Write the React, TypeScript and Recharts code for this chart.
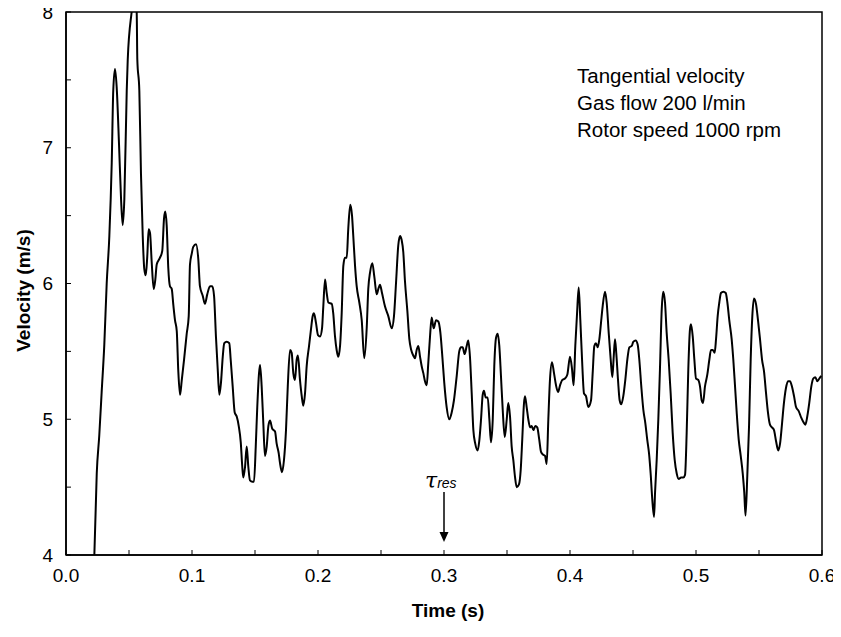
import { LineChart, Line, XAxis, YAxis, ReferenceArea, ReferenceDot } from "recharts";

// Time (s) and tangential velocity (m/s)
const TIME = [
  0.0225, 0.0244, 0.0264, 0.0283, 0.0304, 0.0323, 0.0344, 0.0363, 0.0375, 0.0389,
  0.0402, 0.0421, 0.0437, 0.045, 0.0463, 0.0482, 0.049, 0.0521, 0.0541, 0.0561,
  0.0566, 0.0582, 0.0595, 0.0609, 0.0621, 0.0633, 0.0645, 0.0656, 0.0667, 0.068,
  0.0696, 0.0709, 0.072, 0.0746, 0.0764, 0.0778, 0.0788, 0.0799, 0.0812, 0.0825,
  0.0839, 0.0852, 0.0865, 0.0879, 0.0891, 0.0905, 0.0918, 0.0937, 0.0958, 0.0974,
  0.0984, 0.0998, 0.101, 0.1032, 0.105, 0.1063, 0.1085, 0.1103, 0.1121, 0.1143,
  0.1161, 0.1175, 0.119, 0.1204, 0.1217, 0.123, 0.1244, 0.1256, 0.1275, 0.1296,
  0.1307, 0.1323, 0.1339, 0.1355, 0.1371, 0.1387, 0.1399, 0.1407, 0.1421, 0.1434,
  0.1447, 0.146, 0.1479, 0.1492, 0.1506, 0.1518, 0.1532, 0.154, 0.1553, 0.1566,
  0.1579, 0.1593, 0.1606, 0.1619, 0.1637, 0.1659, 0.1672, 0.1688, 0.1698, 0.1714,
  0.173, 0.1746, 0.176, 0.1778, 0.1791, 0.1804, 0.1817, 0.1831, 0.1841, 0.1857,
  0.1871, 0.1883, 0.1897, 0.191, 0.1929, 0.1944, 0.1958, 0.1968, 0.1984, 0.2,
  0.2016, 0.2032, 0.2042, 0.2056, 0.2069, 0.2082, 0.2109, 0.2121, 0.2135, 0.2148,
  0.2161, 0.2175, 0.2188, 0.2201, 0.2214, 0.2228, 0.224, 0.2256, 0.227, 0.228,
  0.2294, 0.2307, 0.2328, 0.2347, 0.2367, 0.2387, 0.2399, 0.2413, 0.2431, 0.2447,
  0.2466, 0.2479, 0.2492, 0.2508, 0.2532, 0.2558, 0.2585, 0.2603, 0.2619, 0.2637,
  0.2651, 0.2664, 0.2677, 0.269, 0.2709, 0.2725, 0.274, 0.2756, 0.277, 0.2783,
  0.2796, 0.281, 0.2823, 0.2836, 0.2849, 0.2863, 0.2875, 0.2889, 0.2902, 0.2918,
  0.2937, 0.2955, 0.2971, 0.2987, 0.3002, 0.3021, 0.3042, 0.3061, 0.3079, 0.3101,
  0.3121, 0.3135, 0.3148, 0.3164, 0.318, 0.3193, 0.3206, 0.322, 0.3233, 0.3248,
  0.3267, 0.328, 0.3294, 0.3307, 0.3317, 0.3331, 0.3347, 0.336, 0.3373, 0.3387,
  0.3399, 0.3413, 0.3426, 0.3439, 0.3452, 0.3466, 0.3482, 0.3498, 0.351, 0.3524,
  0.3537, 0.355, 0.3563, 0.3577, 0.3595, 0.3609, 0.3621, 0.3635, 0.3643, 0.3656,
  0.3669, 0.3683, 0.3696, 0.3709, 0.3725, 0.374, 0.3756, 0.377, 0.3786, 0.3802,
  0.3815, 0.3828, 0.3841, 0.3857, 0.3873, 0.3889, 0.3905, 0.3921, 0.3939, 0.396,
  0.3979, 0.4, 0.4016, 0.4029, 0.4042, 0.4056, 0.4069, 0.4082, 0.4098, 0.4111,
  0.4127, 0.4145, 0.4167, 0.418, 0.4193, 0.4206, 0.422, 0.4233, 0.4246, 0.4259,
  0.4278, 0.4291, 0.4307, 0.4323, 0.4336, 0.4347, 0.4357, 0.4367, 0.4381, 0.4394,
  0.4407, 0.4423, 0.4439, 0.4455, 0.4471, 0.449, 0.4502, 0.4521, 0.4537, 0.455,
  0.4566, 0.4582, 0.4598, 0.4613, 0.4627, 0.464, 0.4653, 0.4667, 0.4675, 0.4688,
  0.4701, 0.4714, 0.4728, 0.474, 0.4754, 0.4767, 0.4783, 0.4799, 0.4815, 0.4831,
  0.4847, 0.4863, 0.4881, 0.4899, 0.4913, 0.4926, 0.4939, 0.4952, 0.496, 0.4974,
  0.4987, 0.5, 0.5018, 0.5032, 0.5045, 0.5056, 0.5071, 0.509, 0.5106, 0.5119,
  0.5133, 0.5148, 0.5159, 0.5172, 0.5185, 0.5198, 0.5217, 0.5236, 0.5249, 0.5264,
  0.5283, 0.5296, 0.531, 0.5323, 0.5339, 0.5355, 0.5371, 0.5383, 0.5393, 0.5407,
  0.5421, 0.5434, 0.5447, 0.546, 0.5476, 0.5492, 0.5508, 0.5524, 0.554, 0.5556,
  0.5571, 0.5587, 0.5603, 0.5619, 0.5635, 0.5653, 0.5667, 0.5683, 0.5698, 0.5714,
  0.573, 0.5746, 0.5762, 0.5778, 0.5794, 0.5815, 0.5836, 0.5852, 0.5868, 0.5883,
  0.5899, 0.5915, 0.5931, 0.5947, 0.5963, 0.5979, 0.5994,
];

const VELOCITY = [
  4.0, 4.6, 4.88, 5.2, 5.55, 6.0, 6.35, 6.89, 7.42, 7.58,
  7.45, 7.02, 6.62, 6.43, 6.62, 7.42, 7.65, 8.0, 8.15, 8.0,
  7.65, 7.42, 6.81, 6.35, 6.11, 6.06, 6.2, 6.4, 6.37, 6.16,
  5.96, 6.03, 6.14, 6.19, 6.24, 6.48, 6.53, 6.43, 6.11, 5.98,
  5.96, 5.84, 5.73, 5.65, 5.36, 5.18, 5.28, 5.44, 5.63, 5.76,
  6.14, 6.22, 6.27, 6.29, 6.18, 5.98, 5.91, 5.85, 5.92, 5.98,
  5.98, 5.91, 5.61, 5.37, 5.18, 5.27, 5.46, 5.56, 5.57, 5.56,
  5.44, 5.24, 5.05, 5.02, 4.95, 4.83, 4.65, 4.57, 4.65, 4.8,
  4.65, 4.55, 4.54, 4.54, 4.8, 5.09, 5.34, 5.4, 5.24, 4.97,
  4.73, 4.8, 4.95, 4.99, 4.93, 4.91, 4.82, 4.75, 4.68, 4.61,
  4.7, 4.92, 5.24, 5.51, 5.49, 5.34, 5.29, 5.44, 5.47, 5.29,
  5.17, 5.1, 5.19, 5.39, 5.54, 5.66, 5.76, 5.78, 5.71, 5.62,
  5.61, 5.67, 5.83, 6.03, 5.93, 5.86, 5.85, 5.78, 5.61, 5.51,
  5.46, 5.54, 5.78, 6.13, 6.19, 6.19, 6.4, 6.58, 6.5, 6.35,
  6.13, 5.98, 5.86, 5.73, 5.45, 5.68, 5.96, 6.08, 6.15, 6.05,
  5.92, 5.96, 5.99, 5.93, 5.83, 5.76, 5.67, 5.76, 6.0, 6.28,
  6.35, 6.32, 6.23, 6.02, 5.8, 5.59, 5.51, 5.47, 5.45, 5.51,
  5.54, 5.46, 5.39, 5.34, 5.28, 5.25, 5.41, 5.61, 5.75, 5.67,
  5.73, 5.72, 5.64, 5.46, 5.27, 5.09, 5.0, 5.05, 5.14, 5.32,
  5.5, 5.53, 5.53, 5.48, 5.54, 5.58, 5.46, 5.19, 4.92, 4.82,
  4.77, 4.84, 5.0, 5.18, 5.21, 5.16, 5.16, 5.0, 4.83, 5.0,
  5.39, 5.6, 5.63, 5.54, 5.32, 5.07, 4.87, 5.0, 5.12, 5.02,
  4.8, 4.7, 4.58, 4.5, 4.52, 4.63, 4.85, 5.12, 5.17, 5.09,
  5.0, 4.94, 4.95, 4.92, 4.95, 4.94, 4.85, 4.76, 4.74, 4.73,
  4.67, 5.0, 5.29, 5.42, 5.34, 5.25, 5.2, 5.25, 5.29, 5.3,
  5.33, 5.46, 5.37, 5.25, 5.54, 5.78, 5.97, 5.73, 5.39, 5.19,
  5.17, 5.09, 5.14, 5.34, 5.54, 5.56, 5.53, 5.59, 5.71, 5.83,
  5.94, 5.86, 5.64, 5.44, 5.31, 5.46, 5.59, 5.49, 5.29, 5.14,
  5.11, 5.17, 5.29, 5.44, 5.53, 5.54, 5.57, 5.58, 5.55, 5.44,
  5.24, 5.07, 4.97, 4.85, 4.75, 4.6, 4.41, 4.28, 4.46, 4.7,
  5.0, 5.37, 5.81, 5.94, 5.86, 5.64, 5.44, 5.19, 4.9, 4.7,
  4.6, 4.56, 4.57, 4.57, 4.59, 4.9, 5.37, 5.66, 5.7, 5.61,
  5.44, 5.3, 5.29, 5.24, 5.14, 5.12, 5.24, 5.33, 5.44, 5.51,
  5.51, 5.49, 5.59, 5.76, 5.86, 5.93, 5.94, 5.93, 5.86, 5.73,
  5.59, 5.44, 5.24, 5.05, 4.85, 4.73, 4.6, 4.46, 4.29, 4.58,
  4.95, 5.44, 5.76, 5.89, 5.85, 5.73, 5.59, 5.44, 5.35, 5.19,
  5.05, 4.96, 4.94, 4.92, 4.84, 4.77, 4.82, 4.97, 5.12, 5.23,
  5.28, 5.28, 5.24, 5.17, 5.09, 5.06, 5.01, 4.98, 4.96, 5.02,
  5.12, 5.24, 5.3, 5.31, 5.28, 5.3, 5.32,
];

const X_TICKS = [0, 0.05, 0.1, 0.15, 0.2, 0.25, 0.3, 0.35, 0.4, 0.45, 0.5, 0.55, 0.6];
const Y_TICKS = [4, 4.5, 5, 5.5, 6, 6.5, 7, 7.5, 8];

const NOTE_LINES = ["Tangential velocity", "Gas flow 200 l/min", "Rotor speed 1000 rpm"];
const NOTE_AT = { x: 0.4056, y: 7.474 };
const TAU_AT = { x: 0.3, y: 4.096 };

const FONT = "'Liberation Sans', Arial, Helvetica, sans-serif";

const data = TIME.map((t, i) => ({ t, v: VELOCITY[i] }));

function XTick({ x, y, payload }: any) {
  const v = payload.value as number;
  if (Math.round(v * 100) % 10 !== 0) return <g />;
  return (
    <text x={x} y={y} dy="0.71em" textAnchor="middle" fontSize={19} fontFamily={FONT} fill="#000">
      {v.toFixed(1)}
    </text>
  );
}

function YTick({ x, y, payload }: any) {
  const v = payload.value as number;
  if (Math.round(v * 10) % 10 !== 0) return <g />;
  return (
    <text x={x} y={y} dy="0.355em" textAnchor="end" fontSize={19} fontFamily={FONT} fill="#000">
      {v}
    </text>
  );
}

function XTitle({ viewBox }: any) {
  return (
    <text
      x={viewBox.x + viewBox.width / 2 + 4}
      y={viewBox.y + 62}
      textAnchor="middle"
      fontSize={19}
      fontWeight="bold"
      fontFamily={FONT}
      fill="#000"
    >
      Time (s)
    </text>
  );
}

function YTitle({ viewBox }: any) {
  const cx = viewBox.x + 23;
  const cy = viewBox.y + viewBox.height / 2 + 7;
  return (
    <text
      x={cx}
      y={cy}
      dy="0.355em"
      transform={`rotate(-90 ${cx} ${cy})`}
      textAnchor="middle"
      fontSize={19}
      fontWeight="bold"
      fontFamily={FONT}
      fill="#000"
    >
      Velocity (m/s)
    </text>
  );
}

function Note({ cx, cy }: any) {
  return (
    <text x={cx} y={cy} fontSize={20.5} fontFamily={FONT} fill="#000">
      {NOTE_LINES.map((line, i) => (
        <tspan key={line} x={cx} dy={i === 0 ? 0 : 26.7}>
          {line}
        </tspan>
      ))}
    </text>
  );
}

function TauArrow({ cx, cy }: any) {
  return (
    <g>
      <line x1={cx} y1={cy - 50} x2={cx} y2={cy - 9} stroke="#000" strokeWidth={1.5} />
      <path d={`M${cx - 4.5},${cy - 10} L${cx + 4.5},${cy - 10} L${cx},${cy} Z`} fill="#000" />
      <text x={cx - 19} y={cy - 54} fill="#000">
        <tspan fontFamily="'DejaVu Serif', serif" fontStyle="italic" fontSize={22}>τ</tspan>
        <tspan fontFamily={FONT} fontStyle="italic" fontSize={14}>res</tspan>
      </text>
    </g>
  );
}

export default function App() {
  return (
    <div style={{ width: 841, height: 637, margin: -8, fontFamily: FONT }}>
      <LineChart width={841} height={637} data={data} margin={{ top: 12, right: 19, bottom: 0, left: 0 }}>
        <XAxis
          dataKey="t"
          type="number"
          domain={[0, 0.6]}
          ticks={X_TICKS}
          interval={0}
          height={82}
          tickSize={-5}
          tickMargin={19}
          tick={<XTick />}
          axisLine={{ stroke: "#000", strokeWidth: 1.5 }}
          tickLine={{ stroke: "#000", strokeWidth: 1 }}
          label={{ content: XTitle }}
        />
        <YAxis
          type="number"
          domain={[4, 8]}
          ticks={Y_TICKS}
          interval={0}
          allowDataOverflow
          width={66}
          tickSize={-5}
          tickMargin={18}
          tick={<YTick />}
          axisLine={{ stroke: "#000", strokeWidth: 1.5 }}
          tickLine={{ stroke: "#000", strokeWidth: 1 }}
          label={{ content: YTitle }}
        />
        <ReferenceArea x1={0} x2={0.6} y1={4} y2={8} fill="none" stroke="#000" strokeWidth={1.5} />
        <Line
          type="monotone"
          dataKey="v"
          stroke="#000"
          strokeWidth={2}
          strokeLinejoin="round"
          dot={false}
          activeDot={false}
          isAnimationActive={false}
        />
        <ReferenceDot x={TAU_AT.x} y={TAU_AT.y} shape={<TauArrow />} />
        <ReferenceDot x={NOTE_AT.x} y={NOTE_AT.y} shape={<Note />} />
      </LineChart>
    </div>
  );
}
